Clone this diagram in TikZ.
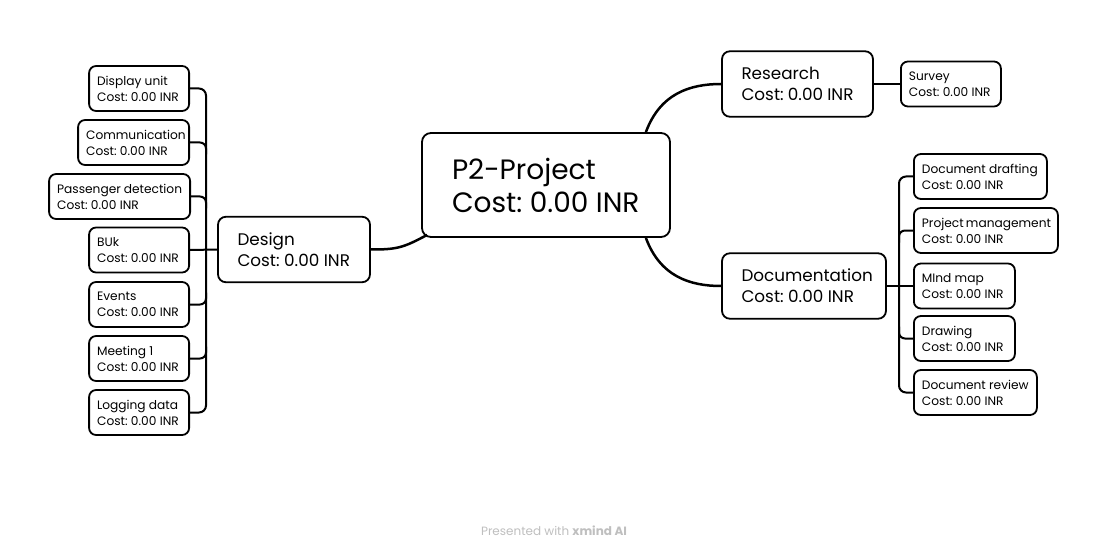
\documentclass[tikz,border=0pt]{standalone}
\usepackage{fontspec}
\setmainfont{Poppins}
\usetikzlibrary{calc}
\begin{document}
\begin{tikzpicture}[x=1pt,y=1pt,
  box/.style={draw, line width=1.8pt, rounded corners=7pt, align=flush left, inner ysep=0pt, execute at begin node={\hyphenpenalty=10000\exhyphenpenalty=10000\hbadness=10000\hfuzz=50pt}},
  smallbox/.style={box, inner xsep=8pt, minimum height=45pt, text width=#1, font=\fontsize{12.2}{16}\selectfont},
  midbox/.style={box, inner xsep=19.5pt, minimum height=65.5pt, rounded corners=8pt, text width=#1, font=\fontsize{16.8}{21}\selectfont},
  bigbox/.style={box, inner xsep=30pt, minimum height=104pt, rounded corners=9pt, text width=#1, font=\fontsize{28}{33}\selectfont},
  conn/.style={line width=2pt},
  mainconn/.style={line width=2.5pt},
]
\fill[white] (0,0) rectangle (1108,-556);
\useasboundingbox (0,0) rectangle (1108,-556);

% central
\node[bigbox=188pt] (p) at (546,-185) {P2-Project\\Cost:~0.00~INR};

% main branches
\node[midbox=113pt] (des) at (294,-249.5) {Design\\Cost:~0.00~INR};
\node[midbox=112pt] (res) at (797.5,-84) {Research\\Cost:~0.00~INR};
\node[midbox=125pt] (doc) at (804,-286) {Documentation\\Cost:~0.00~INR};

% research child
\node[smallbox=84pt, anchor=west] (sv) at (900,-84) {Survey\\Cost:~0.00~INR};

% design children
\node[smallbox=84pt, anchor=east] (du) at (190,-88.5) {Display~unit\\Cost:~0.00~INR};
\node[smallbox=95pt, anchor=east] (cm) at (190,-142.5) {Communication\\Cost:~0.00~INR};
\node[smallbox=125pt, anchor=east] (pd) at (191,-196.5) {Passenger~detection\\Cost:~0.00~INR};
\node[smallbox=84pt, anchor=east] (bk) at (190,-250) {BUk\\Cost:~0.00~INR};
\node[smallbox=84pt, anchor=east] (ev) at (190,-304.5) {Events\\Cost:~0.00~INR};
\node[smallbox=84pt, anchor=east] (mt) at (190,-358.5) {Meeting~1\\Cost:~0.00~INR};
\node[smallbox=84pt, anchor=east] (lg) at (190,-412.5) {Logging~data\\Cost:~0.00~INR};

% documentation children
\node[smallbox=117pt, anchor=west] (dd) at (913,-176.5) {Document~drafting\\Cost:~0.00~INR};
\node[smallbox=128pt, anchor=west] (pm) at (913,-230.5) {Project~management\\Cost:~0.00~INR};
\node[smallbox=85pt, anchor=west] (mm) at (913,-286) {MInd~map\\Cost:~0.00~INR};
\node[smallbox=85pt, anchor=west] (dr) at (913,-338.5) {Drawing\\Cost:~0.00~INR};
\node[smallbox=107pt, anchor=west] (dv) at (913,-392.5) {Document~review\\Cost:~0.00~INR};

% central connectors
\coordinate (pt) at ($(p.north east)+(-25,0)$);
\coordinate (pb) at ($(p.south east)+(-25,0)$);
\coordinate (pl) at ($(p.south west)+(6,3)$);
\draw[mainconn] (pt) .. controls +(14,38) and +(-32,0) .. (res.west);
\draw[mainconn] (pb) .. controls +(14,-38) and +(-32,0) .. (doc.west);
\draw[mainconn] (pl) .. controls +(-24,-13) and +(26,0) .. (des.east);

% research - survey
\draw[conn] (res.east) -- (sv.west);

% left bracket
\draw[conn, rounded corners=7pt] (du.east) -| ($(lg.east)+(16,0)$) -- (lg.east);
\draw[conn, rounded corners=6pt] (cm.east) -| ($(cm.east)+(16,-12)$);
\draw[conn, rounded corners=6pt] (pd.east) -| ($(pd.east)+(15,-12)$);
\draw[conn, rounded corners=6pt] (ev.east) -| ($(ev.east)+(16,12)$);
\draw[conn, rounded corners=6pt] (mt.east) -| ($(mt.east)+(16,12)$);
\draw[conn] (bk.east) -- (des.west);

% right bracket
\draw[conn, rounded corners=7pt] (dd.west) -| ($(dv.west)+(-14,0)$) -- (dv.west);
\draw[conn, rounded corners=6pt] (pm.west) -| ($(pm.west)+(-14,-12)$);
\draw[conn, rounded corners=6pt] (dr.west) -| ($(dr.west)+(-14,12)$);
\draw[conn] (doc.east) -- (mm.west);

% footer
\node[font=\fontsize{12}{14}\selectfont, text=black!25] (ft) at (554,-531) {Presented with \textbf{xmind AI}};
\end{tikzpicture}
\end{document}
